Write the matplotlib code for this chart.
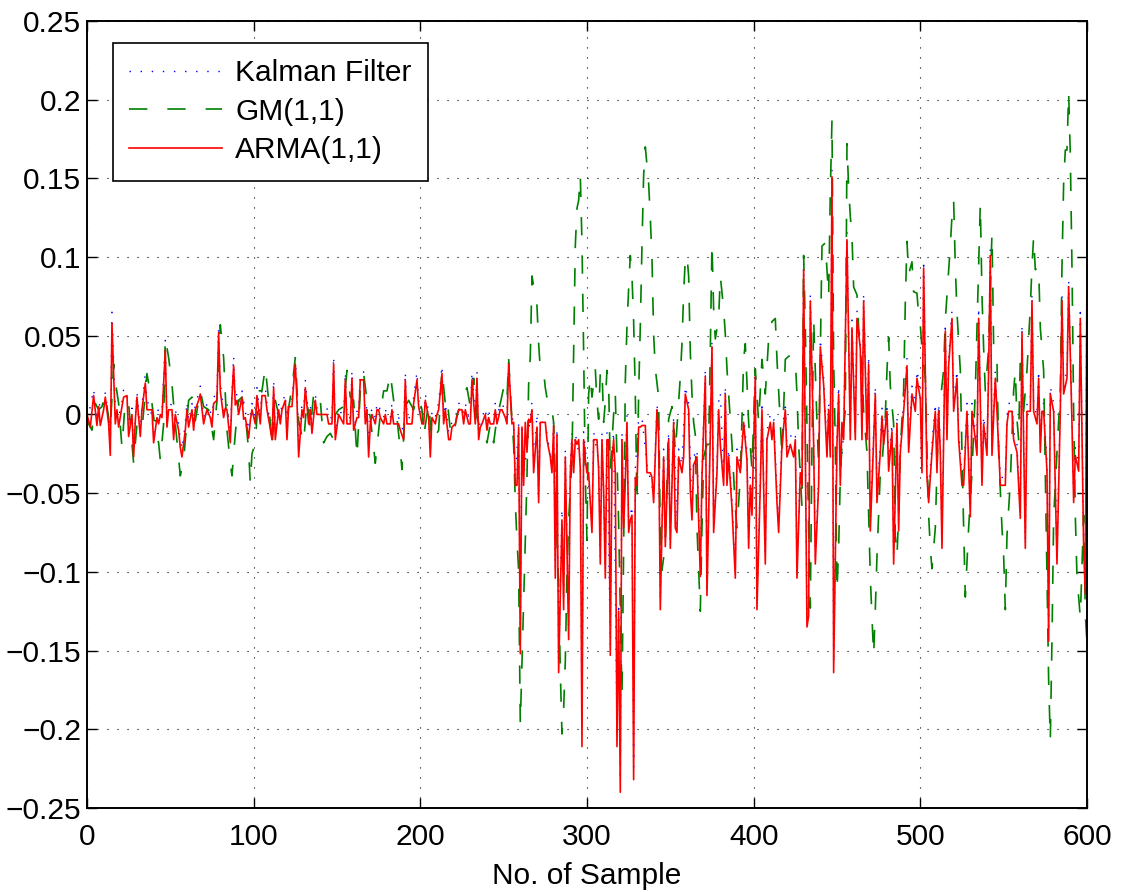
import matplotlib
matplotlib.use("Agg")
import matplotlib.pyplot as plt

plt.rcParams['font.family'] = ['Liberation Sans', 'DejaVu Sans']

# ---------------- data ----------------
arma_x = [0, 2, 4, 6, 7, 8, 10, 11, 13, 14, 15, 17, 18, 19, 21, 22, 24, 25, 27, 28, 29, 30, 32, 33, 35, 36, 38, 39, 40, 42, 43, 44, 45, 47, 48, 49, 51, 52, 53, 55, 56, 57, 59, 60, 61, 63, 64, 65, 67, 68, 70, 71, 72, 74, 75, 76, 78, 79, 80, 82, 83, 84, 86, 87, 88, 89, 90, 91, 93, 94, 95, 97, 98,
          99, 101, 102, 104, 105, 107, 108, 110, 111, 112, 113, 115, 116, 117, 119, 120, 121, 123, 124, 125, 126, 127, 129, 130, 131, 133, 134, 135, 137, 138, 141, 144, 145, 147, 148, 149, 151, 152, 154, 155, 156, 158, 159, 160, 162, 163, 164, 166, 167, 168, 169, 170, 171, 173, 174, 175, 176, 178, 179, 180, 182, 183, 184, 187, 188, 190, 191, 192, 195, 196, 198,
          199, 201, 202, 203, 205, 206, 207, 209, 210, 211, 213, 214, 215, 217, 218, 219, 221, 223, 225, 226, 227, 229, 230, 231, 233, 234, 235, 236, 237, 239, 240, 241, 242, 244, 245, 246, 248, 249, 251, 252, 253, 255,
          256, 257, 258, 259, 260, 261, 262, 263, 264, 265, 266, 267, 268, 270, 271, 272, 274, 275, 276, 278, 279, 280, 281, 282, 283, 285, 286, 287, 289, 290, 291, 292, 293, 294, 295, 296, 297, 298, 299, 300, 301, 303, 304, 306, 307, 308, 309, 310, 311, 312, 313, 314, 315, 316, 317, 318, 319, 320, 321, 322, 323, 324, 325, 326, 327, 328, 329, 330, 331, 332, 333, 335, 336, 338, 339, 340, 342, 343, 344, 345, 346, 347, 349, 350, 352, 353,
          354, 355, 357, 358, 359, 361, 362, 363, 364, 366, 367, 368, 369, 371, 372, 374, 375, 376, 378, 379, 380, 382, 383, 384, 385, 387, 389, 390, 392, 394, 396, 397, 398, 399, 401, 402, 404, 405, 407, 408, 410, 411, 412, 414, 415, 417, 419, 420, 422, 424, 425, 426, 428, 429, 430, 432, 433, 434, 436, 437, 439, 440, 442, 444, 445, 446, 447, 448, 450, 451, 452, 453, 454,
          456, 458, 459, 461, 462, 464, 465, 466, 468, 469, 470, 472, 473, 474, 476, 477, 478, 480, 481, 483, 484, 486, 487, 488, 490, 492, 493, 495, 497, 498, 500, 501, 502, 504, 505, 507, 509, 510, 511, 512, 513, 515, 516, 517, 519, 520, 522, 523, 525, 526,
          528, 530, 531, 533, 534, 535, 537, 538, 540, 541, 542, 543, 545, 546, 548, 551, 552, 553, 555, 556, 558, 559, 560, 561, 563, 564, 566, 567, 568, 570, 571, 572, 573, 574, 576, 577, 578, 580, 581, 582, 584, 585, 586, 588, 589, 591, 592, 593, 595, 596, 598, 599, 600]
arma_y = [0.000, -0.008, 0.012, -0.007, 0.005, -0.007, 0.003, 0.011, -0.006, -0.026, 0.058, -0.006, 0.003, -0.008, 0.005, 0.011, 0.012, -0.014, 0.000, -0.027, -0.004, 0.011, -0.014, 0.003, 0.020, 0.003, 0.003, 0.003, -0.018, -0.002, -0.006, 0.000, -0.002, 0.041, -0.008, 0.003, 0.003, -0.016, 0.000, -0.010, -0.021, -0.027, -0.010, 0.003, -0.008, 0.003, -0.010, 0.003, 0.009, 0.013, -0.006, -0.001, 0.003, -0.002, -0.008, 0.007, 0.009, 0.052, 0.015, -0.002, 0.004, 0.003, -0.018, 0.011, 0.031, 0.006, 0.009, 0.000, 0.011, -0.003, -0.002, -0.015, -0.004,
          0.003, -0.006, 0.012, -0.006, 0.012, 0.012, 0.003, -0.009, -0.016, 0.017, -0.016, 0.003, -0.006, 0.003, 0.009, -0.016, 0.005, 0.005, 0.019, 0.032, 0.009, -0.027, 0.003, -0.002, 0.017, -0.006, 0.003, -0.012, 0.009, 0.000, 0.000, 0.000, -0.006, -0.006, 0.032, -0.016, 0.000, -0.002, -0.006, 0.022, -0.006, -0.006, 0.023, -0.010, -0.002, -0.002, 0.022, 0.022, -0.006, 0.003, -0.027, -0.006, 0.000, -0.006, 0.003, 0.003, -0.002, -0.006, 0.000, -0.006, -0.006, 0.003, -0.006, -0.006, -0.010, -0.016, 0.022, -0.006, -0.006, 0.007, 0.022,
          0.005, -0.006, -0.006, 0.009, -0.002, -0.027, -0.002, -0.006, 0.000, 0.003, 0.026, -0.006, 0.003, -0.016, -0.016, -0.008, -0.006, 0.003, 0.003, -0.006, 0.003, -0.006, -0.006, 0.022, -0.006, 0.023, -0.016, -0.008, -0.006, 0.000, -0.010, -0.002, -0.006, -0.006, 0.003, -0.006, 0.003, 0.003, -0.002, -0.006, 0.032, -0.006,
          -0.005, -0.045, -0.045, -0.008, -0.152, -0.008, -0.045, -0.005, -0.024, -0.003, -0.005, 0.003, -0.037, -0.008, -0.056, -0.005, -0.005, -0.005, -0.016, -0.027, -0.037, -0.007, -0.104, -0.013, -0.164, -0.067, -0.124, -0.027, -0.143, -0.037, -0.016, -0.037, -0.016, -0.019, -0.016, -0.035, -0.211, -0.016, -0.029, -0.037, -0.037, -0.075, -0.016, -0.016, -0.035, -0.095, -0.016, -0.048, -0.104, -0.016, -0.016, -0.153, -0.029, -0.016, -0.037, -0.211, -0.125, -0.240, -0.016, -0.072, -0.043, -0.005, -0.075, -0.067, -0.064, -0.232, -0.040, -0.045, -0.008, -0.008, -0.007, -0.007, -0.037, -0.037, -0.040, -0.056, 0.003, -0.013, -0.124, -0.072, -0.027, -0.084, -0.016, -0.085, -0.005, -0.072,
          -0.075, -0.027, -0.037, -0.027, 0.013, 0.003, -0.048, -0.067, -0.032, -0.027, -0.067, -0.103, -0.040, 0.024, -0.115, -0.013, 0.043, -0.075, -0.037, 0.003, -0.019, -0.045, 0.013, -0.045, -0.027, -0.059, -0.104, -0.027, -0.037, -0.005, -0.029, -0.085, -0.045, -0.064, 0.024, -0.124, -0.045, 0.003, -0.095, -0.016, -0.005, -0.016, -0.005, -0.056, -0.075, -0.019, 0.003, -0.027, -0.019, -0.027, -0.016, -0.104, -0.037, -0.045, 0.092, -0.135, -0.128, 0.072, -0.019, -0.095, -0.045, 0.043, 0.019, -0.027, 0.003, -0.027, 0.151, -0.164, -0.019, 0.013, -0.045, -0.005, -0.016,
          0.111, -0.016, 0.055, -0.016, 0.061, 0.042, -0.016, 0.072, -0.016, 0.032, -0.074, -0.016, 0.013, -0.056, -0.024, -0.001, -0.019, 0.002, -0.036, -0.011, -0.095, -0.006, -0.074, -0.024, 0.002, 0.031, -0.024, 0.013, 0.002, 0.023, 0.010, -0.037, 0.093, -0.040, -0.056, -0.024, 0.002, -0.037, 0.002, -0.024, -0.085, 0.053, -0.016, 0.031, 0.061, 0.002, 0.023, -0.016, -0.045, -0.045,
          0.002, -0.065, 0.002, -0.016, -0.026, 0.061, -0.045, -0.006, -0.026, 0.028, 0.101, -0.026, 0.023, 0.002, -0.045, -0.045, -0.006, 0.002, 0.002, -0.016, -0.024, -0.045, -0.066, 0.052, -0.085, 0.002, 0.002, 0.072, 0.002, -0.006, 0.023, -0.024, 0.002, 0.002, -0.036, -0.144, 0.013, 0.002, -0.045, -0.095, 0.002, 0.072, 0.013, 0.023, 0.081, -0.006, -0.056, -0.026, -0.036, 0.061, -0.085, -0.114, 0.094]

gm_x = [0, 1, 3, 5, 7, 9, 11, 14, 16, 17, 19, 21, 23, 25, 28, 30, 33, 36, 39, 41, 43, 44, 46, 47, 49, 51, 53, 56, 58, 61, 63, 65, 68, 70, 73, 76, 78, 80, 82, 84, 86, 87, 89, 91, 93, 95, 97, 98,
        99, 101, 103, 105, 107, 109, 111, 113, 115, 117, 120, 123, 125, 127, 129, 130, 132, 134, 136, 138, 140, 142, 144, 146, 148, 149, 151, 154, 156, 158, 160, 162, 164, 166, 168, 170, 172, 173, 176, 178, 180, 182, 184, 186, 188, 189, 191, 193, 196, 198,
        199, 201, 202, 205, 207, 209, 211, 213, 215, 216, 218, 220, 222, 224, 226, 228, 230, 232, 234, 236, 238, 240, 242, 244, 246, 248, 250, 252, 253,
        254, 256, 257, 258, 259, 260, 262, 263, 264, 265, 266, 267, 269, 270, 271, 272, 274, 275, 277, 279, 280, 282, 283, 284, 285, 286, 287, 288, 289, 291, 292, 293, 294, 295, 296, 297, 298, 299, 300, 301, 302, 303, 305, 306, 307, 308, 309, 310, 311, 312, 313, 314, 316, 317, 319, 320, 321, 322, 323, 324, 325, 326, 327, 328, 329, 330, 331, 332, 333, 334, 335, 337, 338, 339, 340, 341, 343, 344, 345, 347, 349, 351, 352, 353,
        356, 357, 358, 359, 360, 361, 362, 363, 364, 365, 366, 367, 368, 369, 370, 372, 373, 374, 375, 376, 377, 379, 380, 382, 383, 384, 385, 387, 389, 390, 392, 394, 395, 397, 399, 401, 403, 405, 407, 409, 411, 413, 414, 416, 417, 419, 421, 423, 425, 426, 427, 429, 430, 431, 433, 434, 435, 436, 438, 439, 441, 443, 445, 446, 447, 448, 449, 450, 451, 452, 453, 455, 456,
        457, 458, 459, 460, 462, 463, 464, 465, 466, 468, 469, 470, 471, 472, 473, 474, 475, 476, 477, 479, 480, 481, 482, 484, 485, 486, 487, 488, 489, 490, 491, 492, 493, 495, 496, 498, 499, 500, 501, 503, 504, 505, 506, 507, 509, 510, 511, 514, 515, 516, 518, 519, 520, 521, 522, 524, 525, 526, 527,
        529, 531, 533, 534, 535, 536, 537, 538, 539, 541, 542, 543, 544, 546, 547, 549, 550, 551, 552, 554, 556, 557, 558, 559, 560, 562, 564, 566, 567, 568, 569, 571, 572, 574, 575, 576, 577, 578, 579, 580, 582, 584, 585, 586, 587, 588, 589, 590, 591, 592, 593, 594, 596, 598, 599, 600]
gm_y = [-0.002, -0.006, -0.010, 0.007, 0.003, 0.005, 0.013, -0.010, 0.032, 0.021, 0.007, -0.021, 0.009, 0.007, -0.031, -0.006, -0.010, 0.026, 0.007, -0.010, -0.018, -0.029, -0.006, 0.049, 0.036, 0.019, -0.006, -0.039, -0.029, 0.009, 0.011, -0.004, 0.015, 0.005, 0.003, -0.016, 0.009, 0.057, 0.036, -0.010, -0.031, -0.039, -0.012, 0.009, 0.011, 0.000, -0.023, -0.044,
        -0.025, -0.018, 0.015, 0.015, 0.030, 0.009, -0.021, 0.009, 0.000, -0.006, -0.002, 0.017, 0.036, -0.004, -0.014, -0.018, 0.009, -0.010, 0.013, 0.015, 0.009, -0.018, -0.014, -0.012, -0.016, 0.000, 0.003, 0.005, 0.028, 0.011, 0.009, -0.027, 0.015, 0.026, 0.009, -0.002, -0.021, -0.031, 0.000, 0.015, 0.015, 0.026, 0.009, -0.002, -0.023, -0.035, 0.005, 0.009, 0.003, 0.011,
        0.011, 0.003, -0.014, 0.007, -0.018, -0.014, -0.010, 0.028, 0.007, 0.011, -0.010, -0.014, 0.000, 0.005, 0.013, 0.017, 0.005, 0.023, -0.002, -0.008, -0.010, -0.018, -0.006, -0.018, -0.002, 0.007, 0.017, 0.009, 0.036,
        0.013, -0.019, -0.056, -0.080, -0.099, -0.197, -0.120, -0.080, -0.040, 0.019, 0.037, 0.088, 0.075, 0.069, 0.045, 0.029, 0.027, 0.017, 0.004, 0.003, -0.005, -0.080, -0.109, -0.163, -0.203, -0.187, -0.157, -0.101, -0.067, -0.029, 0.040, 0.107, 0.131, 0.136, 0.152, 0.109, 0.040, -0.040, -0.080, 0.013, 0.024, 0.011, 0.029, 0.008, -0.003, 0.027, 0.029, -0.005, 0.008, 0.028, 0.019, -0.035, 0.000, 0.013, -0.069, -0.125, -0.179, -0.085, 0.021, 0.056, 0.080, 0.101, 0.088, 0.059, 0.013, -0.056, 0.013, 0.056, 0.107, 0.152, 0.170, 0.147, 0.125, 0.099, 0.051, 0.029, 0.011, -0.080, -0.099, -0.083, -0.003, 0.005, -0.005, -0.024,
        0.024, 0.045, 0.077, 0.099, 0.101, 0.088, 0.040, 0.013, -0.005, -0.013, -0.072, -0.099, -0.125, -0.072, -0.027, -0.019, -0.019, 0.040, 0.109, 0.067, 0.048, 0.061, 0.088, 0.067, 0.051, 0.029, 0.013, -0.019, -0.059, -0.072, -0.040, 0.035, 0.045, -0.005, -0.035, 0.029, -0.005, 0.035, 0.013, 0.048, 0.059, 0.061, 0.035, -0.005, -0.027, 0.035, 0.037, 0.037, 0.035, 0.013, -0.019, -0.059, 0.101, 0.056, -0.072, -0.123, -0.019, 0.061, -0.005, -0.032, 0.107, 0.109, 0.075, 0.141, 0.187, 0.035, -0.019, -0.112, -0.085, -0.040, -0.019, 0.003, 0.172,
        0.144, 0.126, 0.113, 0.081, 0.076, 0.055, 0.042, 0.028, 0.002, -0.024, -0.064, -0.103, -0.129, -0.153, -0.124, -0.090, -0.064, -0.037, -0.032, -0.001, 0.028, 0.049, 0.018, -0.006, -0.077, -0.090, -0.064, -0.024, -0.003, 0.015, 0.071, 0.110, 0.089, 0.097, 0.078, 0.077, 0.063, 0.057, 0.042, 0.023, -0.024, -0.064, -0.085, -0.098, -0.072, -0.035, -0.001, 0.028, 0.060, 0.076, 0.107, 0.126, 0.136, 0.094, 0.065, 0.028, -0.024, -0.072, -0.116,
        -0.072, -0.037, 0.015, 0.055, 0.094, 0.134, 0.076, 0.042, 0.015, 0.042, 0.081, 0.115, 0.044, 0.034, -0.024, -0.072, -0.090, -0.124, -0.077, -0.043, 0.015, 0.028, -0.003, -0.016, 0.036, 0.002, 0.028, 0.068, 0.094, 0.113, 0.092, 0.094, 0.055, 0.028, -0.037, -0.098, -0.169, -0.207, -0.143, -0.066, -0.024, 0.015, 0.094, 0.147, 0.168, 0.168, 0.205, 0.165, 0.094, 0.002, -0.064, -0.103, -0.129, -0.064, -0.127, -0.145]

kf_x = [0, 2, 4, 6, 8, 10, 11, 13, 14, 15, 17, 19, 21, 22, 24, 25, 27, 28, 30, 32, 33, 35, 36, 38, 40, 42, 44, 45, 47, 48, 49, 51, 52, 53, 55, 56, 57, 59, 60, 61, 63, 64, 65, 67, 68, 70, 72, 74, 75, 76, 78, 79, 80, 82, 84, 86, 87, 88, 89, 90, 91, 93, 95, 97, 98,
        99, 101, 102, 104, 105, 107, 108, 110, 111, 112, 113, 115, 116, 117, 119, 120, 121, 123, 124, 125, 126, 127, 129, 130, 131, 133, 134, 135, 137, 138, 141, 144, 145, 147, 148, 149, 151, 152, 154, 155, 156, 158, 159, 160, 162, 163, 164, 166, 167, 168, 169, 170, 171, 173, 174, 175, 176, 178, 179, 180, 182, 183, 184, 187, 188, 190, 191, 192, 195, 196, 198,
        199, 201, 202, 203, 205, 206, 207, 209, 210, 211, 213, 214, 215, 217, 218, 219, 221, 223, 225, 226, 227, 229, 230, 231, 233, 234, 235, 236, 237, 239, 240, 241, 242, 244, 245, 246, 248, 249, 251, 252, 253, 255,
        256, 257, 259, 260, 261, 262, 264, 267, 268, 270, 271, 272, 276, 279, 280, 281, 282, 283, 285, 286, 287, 289, 290, 291, 292, 293, 296, 297, 298, 300, 303, 304, 307, 308, 309, 311, 312, 314, 315, 316, 318, 319, 320, 321, 322, 324, 325, 327, 328, 329, 331, 333, 336, 340, 342, 343, 344, 346, 347, 349, 350, 352,
        354, 355, 357, 359, 361, 363, 364, 366, 368, 369, 371, 372, 374, 375, 376, 378, 379, 380, 382, 383, 384, 385, 387, 389, 390, 392, 394, 396, 397, 398, 399, 401, 402, 404, 405, 407, 408, 410, 412, 414, 415, 417, 419, 420, 422, 425, 426, 428, 429, 430, 432, 433, 434, 436, 437, 439, 440, 442, 444, 445, 446, 447, 448, 450, 451, 452, 454,
        456, 458, 459, 461, 462, 464, 465, 466, 468, 469, 470, 472, 473, 474, 476, 477, 478, 480, 481, 483, 484, 486, 487, 488, 490, 492, 493, 495, 497, 498, 500, 501, 502, 504, 505, 507, 509, 510, 511, 512, 513, 515, 516, 517, 519, 520, 522, 523, 525, 526,
        528, 530, 531, 533, 534, 535, 537, 538, 540, 541, 542, 543, 545, 546, 548, 551, 552, 553, 555, 556, 558, 559, 560, 561, 563, 564, 566, 567, 568, 570, 571, 572, 573, 574, 576, 577, 578, 580, 581, 582, 584, 585, 586, 588, 589, 591, 592, 593, 595, 596, 598, 599, 600]
kf_y = [-0.003, 0.005, 0.016, -0.004, 0.009, 0.006, 0.014, -0.002, -0.020, 0.065, 0.003, -0.002, 0.008, 0.016, 0.015, -0.010, 0.004, -0.022, 0.014, -0.010, 0.006, 0.026, 0.008, 0.006, -0.012, 0.002, 0.004, 0.002, 0.047, -0.004, 0.007, 0.006, -0.012, 0.003, -0.006, -0.016, -0.022, -0.006, 0.008, -0.004, 0.007, -0.005, 0.007, 0.013, 0.018, -0.002, 0.007, 0.002, -0.004, 0.011, 0.013, 0.056, 0.020, 0.002, 0.007, -0.013, 0.015, 0.037, 0.010, 0.013, 0.004, 0.015, 0.002, -0.010, 0.000,
        0.007, -0.002, 0.017, -0.002, 0.017, 0.017, 0.007, -0.005, -0.012, 0.022, -0.011, 0.007, -0.002, 0.007, 0.013, -0.011, 0.009, 0.009, 0.024, 0.037, 0.013, -0.022, 0.007, 0.002, 0.022, -0.002, 0.007, -0.008, 0.013, 0.004, 0.004, 0.004, -0.002, -0.002, 0.037, -0.011, 0.004, 0.002, -0.002, 0.027, -0.002, -0.002, 0.028, -0.005, 0.002, 0.002, 0.027, 0.027, -0.002, 0.007, -0.022, -0.002, 0.004, -0.002, 0.007, 0.007, 0.002, -0.002, 0.004, -0.002, -0.002, 0.007, -0.002, -0.002, -0.005, -0.011, 0.027, -0.002, -0.002, 0.011, 0.027,
        0.009, -0.002, -0.002, 0.013, 0.002, -0.022, 0.002, -0.002, 0.004, 0.007, 0.031, -0.002, 0.007, -0.011, -0.011, -0.004, -0.002, 0.007, 0.007, -0.002, 0.007, -0.002, -0.002, 0.027, -0.002, 0.028, -0.011, -0.004, -0.002, 0.004, -0.005, 0.002, -0.002, -0.002, 0.007, -0.002, 0.007, 0.007, 0.002, -0.002, 0.036, -0.002,
        -0.004, -0.040, -0.006, -0.145, -0.006, -0.040, -0.020, 0.008, -0.033, 0.000, -0.050, -0.002, -0.012, -0.033, -0.003, -0.098, -0.009, -0.158, -0.060, -0.118, -0.022, -0.136, -0.032, -0.012, -0.032, -0.012, -0.030, -0.200, -0.011, -0.032, -0.070, -0.011, -0.030, -0.090, -0.011, -0.098, -0.011, -0.147, -0.024, -0.011, -0.200, -0.120, -0.232, -0.011, -0.066, 0.000, -0.070, -0.058, -0.224, -0.035, -0.003, -0.002, -0.032, -0.050, 0.007, -0.009, -0.118, -0.022, -0.078, -0.011, -0.080, -0.001,
        -0.070, -0.022, -0.032, 0.018, 0.007, -0.062, -0.027, -0.022, -0.098, -0.035, 0.029, -0.110, -0.008, 0.047, -0.070, -0.032, 0.008, 0.014, -0.040, 0.018, -0.040, -0.022, -0.054, -0.098, -0.022, -0.032, 0.000, -0.024, -0.080, -0.040, -0.058, 0.029, -0.118, -0.040, 0.008, -0.090, -0.011, 0.000, 0.000, -0.050, -0.070, -0.014, 0.008, -0.022, -0.014, -0.011, -0.098, -0.032, -0.040, 0.097, -0.130, -0.122, 0.077, -0.014, -0.090, -0.040, 0.048, 0.024, -0.022, 0.008, -0.022, 0.156, -0.158, -0.014, 0.018, -0.040, -0.011,
        0.116, -0.011, 0.060, -0.011, 0.066, 0.047, -0.011, 0.077, -0.011, 0.037, -0.068, -0.011, 0.018, -0.050, -0.019, 0.004, -0.014, 0.007, -0.031, -0.006, -0.089, -0.001, -0.068, -0.019, 0.007, 0.036, -0.019, 0.018, 0.007, 0.028, 0.015, -0.032, 0.098, -0.035, -0.050, -0.019, 0.007, -0.032, 0.007, -0.019, -0.080, 0.058, -0.011, 0.036, 0.066, 0.007, 0.028, -0.011, -0.040, -0.040,
        0.007, -0.060, 0.007, -0.011, -0.021, 0.068, -0.040, -0.001, -0.021, 0.033, 0.106, -0.021, 0.028, 0.007, -0.040, -0.040, -0.001, 0.007, 0.007, -0.011, -0.019, -0.040, -0.060, 0.057, -0.080, 0.007, 0.007, 0.077, 0.007, -0.001, 0.028, -0.019, 0.007, 0.007, -0.031, -0.138, 0.018, 0.007, -0.040, -0.090, 0.007, 0.077, 0.018, 0.028, 0.086, -0.001, -0.050, -0.021, -0.031, 0.068, -0.080, -0.108, 0.098]

series_labels = ['Kalman Filter', 'GM(1,1)', 'ARMA(1,1)']
x_ticks = [0, 100, 200, 300, 400, 500, 600]
y_ticks = [-0.25, -0.2, -0.15, -0.1, -0.05, 0, 0.05, 0.1, 0.15, 0.2, 0.25]
y_tick_labels = ['\u22120.25', '\u22120.2', '\u22120.15', '\u22120.1', '\u22120.05', '0',
                 '0.05', '0.1', '0.15', '0.2', '0.25']
x_label = 'No. of Sample'

# ---------------- figure ----------------
FS = 21.5
fig = plt.figure(figsize=(11.25, 8.92), dpi=100)
ax = fig.add_axes([0.0773, 0.0942, 0.8889, 0.8823])

ax.plot(kf_x, kf_y, color='#0000ff', linewidth=1.0, linestyle=(0, (1, 7)),
        label=series_labels[0])
ax.plot(gm_x, gm_y, color='#008000', linewidth=1.2, linestyle=(0, (11, 12)),
        label=series_labels[1])
ax.plot(arma_x, arma_y, color='#ff0000', linewidth=1.2, linestyle='-',
        label=series_labels[2])

ax.set_xlim(0, 600)
ax.set_ylim(-0.25, 0.25)
ax.set_xticks(x_ticks)
ax.set_xticklabels([str(v) for v in x_ticks])
ax.set_yticks(y_ticks)
ax.set_yticklabels(y_tick_labels)

ax.grid(True, color='black', linestyle=(0, (1, 8)), linewidth=0.8)
ax.tick_params(direction='in', length=7, width=1, labelsize=FS,
               top=True, right=True)
ax.tick_params(axis='x', pad=11)
ax.tick_params(axis='y', pad=4)
for sp in ax.spines.values():
    sp.set_linewidth(1.4)

ax.set_xlabel(x_label, fontsize=FS, labelpad=8)

leg = ax.legend(loc='upper left', bbox_to_anchor=(0.026, 0.972), borderaxespad=0,
                fontsize=FS, frameon=True, fancybox=False, edgecolor='black',
                handlelength=3.1, handletextpad=0.45, labelspacing=0.35,
                borderpad=0.55)
leg.get_frame().set_linewidth(1.2)
leg.get_frame().set_alpha(1)

fig.savefig('out.png', dpi=100)
